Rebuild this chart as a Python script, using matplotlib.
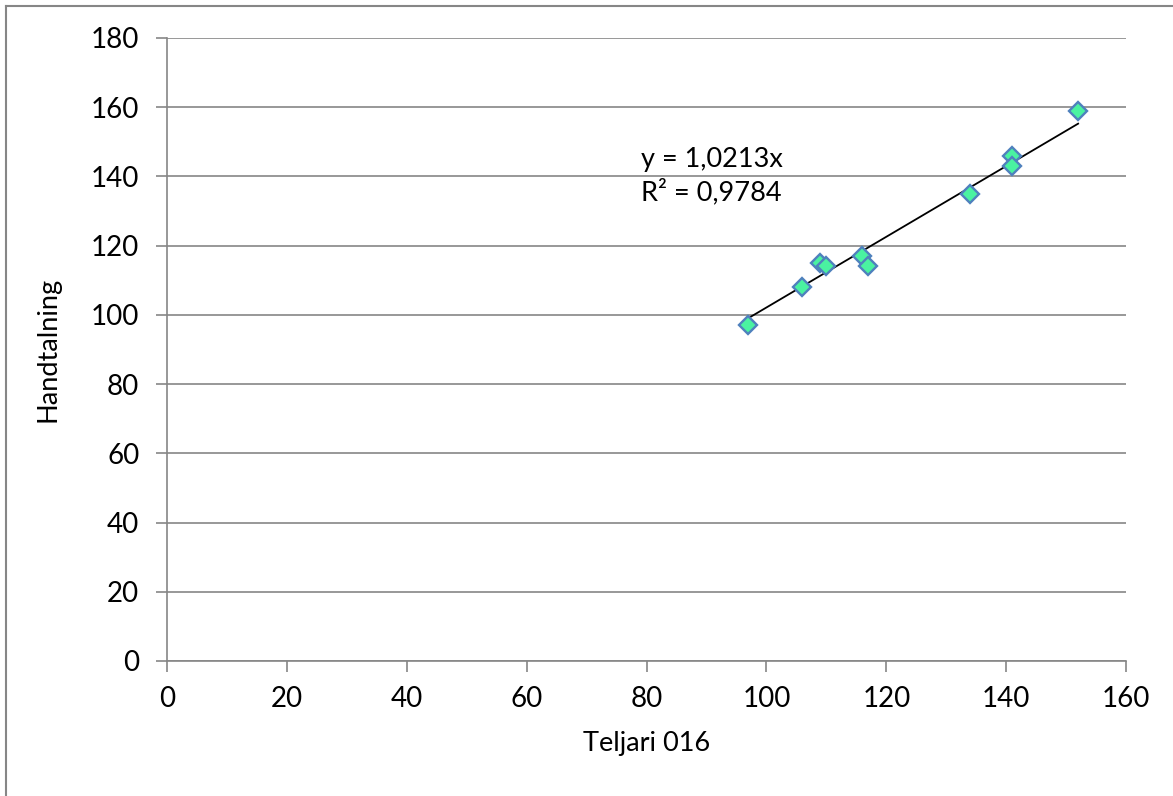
import matplotlib
matplotlib.use("Agg")
import matplotlib.pyplot as plt
from matplotlib.lines import Line2D
import numpy as np

# Teljari 016 vs Handtalning
teljari = [97, 106, 109, 110, 116, 117, 134, 141, 141, 152]
handtalning = [97, 108, 115, 114, 117, 114, 135, 146, 143, 159]
x_ticks = [0, 20, 40, 60, 80, 100, 120, 140, 160]
y_ticks = [0, 20, 40, 60, 80, 100, 120, 140, 160, 180]
eq_text = "y = 1,0213x\nR\u00b2 = 0,9784"

plt.rcParams["font.family"] = ["Lato", "DejaVu Sans"]

fig = plt.figure(figsize=(11.73, 7.96), dpi=100)
ax = fig.add_axes([0.1424, 0.1696, 0.8176, 0.7827])

x = np.array(teljari, dtype=float)
y = np.array(handtalning, dtype=float)

# linear trend forced through origin
slope = (x * y).sum() / (x * x).sum()
xs = np.array([x.min(), x.max()])
ax.plot(xs, slope * xs, color="black", lw=1.3, zorder=3)

ax.plot(x, y, "D", ms=9, mfc="#4af2a1", mec="#4f81bd", mew=1.7, zorder=4)

ax.set_xlim(0, 160)
ax.set_ylim(0, 180)
ax.set_xticks(x_ticks)
ax.set_yticks(y_ticks)
ax.yaxis.grid(True, color="#868686", lw=1.2)
ax.set_axisbelow(True)

for side in ("top", "right"):
    ax.spines[side].set_visible(False)
for side in ("left", "bottom"):
    ax.spines[side].set_color("#868686")
    ax.spines[side].set_linewidth(1.2)
ax.tick_params(direction="out", length=8, width=1.2, color="#868686",
               labelsize=20)
ax.tick_params(axis="y", pad=12)
ax.tick_params(axis="x", pad=10)

ax.set_xlabel("Teljari 016", fontsize=19.5, labelpad=14)
ax.set_ylabel("Handtalning", fontsize=19.5, labelpad=22)

ax.text(79, 140, eq_text, fontsize=19.5, ha="left", va="center", linespacing=1.3)

# outer chart border (cut off at right and bottom)
fig.add_artist(Line2D([6 / 1173, 1.0], [1 - 6 / 796, 1 - 6 / 796],
                      transform=fig.transFigure, color="#868686", lw=1.5))
fig.add_artist(Line2D([6 / 1173, 6 / 1173], [0, 1 - 6 / 796],
                      transform=fig.transFigure, color="#868686", lw=1.5))

fig.savefig("out.png", dpi=100)
